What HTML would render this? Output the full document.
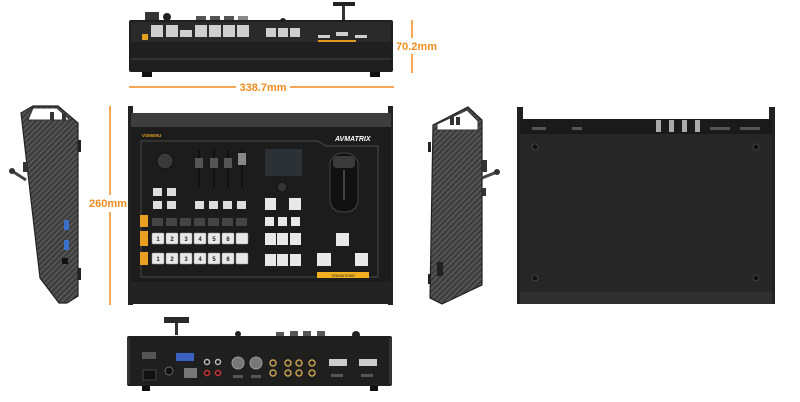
<!DOCTYPE html>
<html><head><meta charset="utf-8"><style>
html,body{margin:0;padding:0;background:#fff;width:800px;height:402px;overflow:hidden}
svg{display:block}
text{font-family:"Liberation Sans",sans-serif}
</style></head><body>
<svg width="800" height="402" viewBox="0 0 800 402" xmlns="http://www.w3.org/2000/svg">
<defs>
<pattern id="hatch" width="4" height="4" patternUnits="userSpaceOnUse" patternTransform="rotate(45)">
<rect width="4" height="4" fill="#3a3a3a"/><rect width="2" height="4" fill="#555"/>
</pattern>
<g id="wb"><rect width="12" height="11" rx="1" fill="#e8e8e8" stroke="#999" stroke-width="0.5"/></g>
</defs>

<!-- FRONT ELEVATION (top) -->
<rect x="145" y="12" width="14" height="8" fill="#333"/>
<circle cx="167" cy="17" r="4" fill="#222"/>
<rect x="196" y="16" width="10" height="5" fill="#555"/><rect x="210" y="16" width="10" height="5" fill="#555"/><rect x="224" y="16" width="10" height="5" fill="#555"/><rect x="238" y="16" width="10" height="5" fill="#888"/>
<circle cx="283" cy="21" r="3" fill="#222"/>
<rect x="333" y="2" width="22" height="4" fill="#222"/><rect x="342" y="6" width="3" height="18" fill="#333"/>
<rect x="129" y="20" width="264" height="52" rx="2" fill="#1f1f1f"/>
<rect x="131" y="22" width="260" height="20" fill="#2a2a2a"/>
<g fill="#cfcfcf">
<rect x="151" y="25" width="12" height="12"/><rect x="166" y="25" width="12" height="12"/><rect x="180" y="30" width="12" height="7"/><rect x="195" y="25" width="12" height="12"/><rect x="209" y="25" width="12" height="12"/><rect x="223" y="25" width="12" height="12"/><rect x="237" y="25" width="12" height="12"/>
<rect x="266" y="28" width="10" height="9"/><rect x="278" y="28" width="10" height="9"/><rect x="290" y="28" width="10" height="9"/>
<rect x="318" y="35" width="12" height="3"/><rect x="336" y="32" width="12" height="4"/><rect x="355" y="35" width="12" height="3"/>
</g>
<rect x="142" y="34" width="6" height="6" fill="#e0a020"/>
<rect x="318" y="40" width="38" height="2" fill="#e09a20"/>
<line x1="131" y1="59" x2="391" y2="59" stroke="#555" stroke-width="0.7"/>
<rect x="142" y="72" width="10" height="5" fill="#111"/><rect x="370" y="72" width="10" height="5" fill="#111"/>
<line x1="129" y1="87" x2="236" y2="87" stroke="#f08c1e" stroke-width="1.5"/>
<line x1="290" y1="87" x2="394" y2="87" stroke="#f08c1e" stroke-width="1.5"/>
<text x="263" y="91" font-size="11" font-weight="bold" fill="#f08c1e" text-anchor="middle">338.7mm</text>
<line x1="412" y1="20" x2="412" y2="38" stroke="#f08c1e" stroke-width="1.5"/>
<line x1="412" y1="54" x2="412" y2="73" stroke="#f08c1e" stroke-width="1.5"/>
<text x="396" y="50" font-size="11" font-weight="bold" fill="#f08c1e">70.2mm</text>

<!-- LEFT SIDE VIEW -->
<polygon points="21,113 33,106 58,106 78,123 78,296 67,303 59,303 40,278" fill="url(#hatch)" stroke="#222" stroke-width="1.2"/>
<polygon points="33,108 57,108 70,120 28,120" fill="#fff" stroke="#333"/>
<rect x="50" y="112" width="4" height="8" fill="#333"/><rect x="62" y="113" width="4" height="7" fill="#333"/>
<line x1="12" y1="171" x2="26" y2="180" stroke="#444" stroke-width="3"/><circle cx="12" cy="171" r="3" fill="#333"/>
<rect x="23" y="162" width="5" height="10" fill="#333"/>
<rect x="78" y="140" width="3" height="12" fill="#222"/><rect x="78" y="268" width="3" height="12" fill="#222"/>
<rect x="64" y="220" width="5" height="10" fill="#3a70c8"/><rect x="64" y="240" width="5" height="10" fill="#3a70c8"/>
<rect x="62" y="258" width="6" height="6" fill="#111"/>
<line x1="110" y1="106" x2="110" y2="195" stroke="#f08c1e" stroke-width="1.5"/>
<line x1="110" y1="212" x2="110" y2="305" stroke="#f08c1e" stroke-width="1.5"/>
<text x="89" y="207" font-size="11" font-weight="bold" fill="#f08c1e">260mm</text>

<!-- TOP VIEW -->
<rect x="128" y="106" width="5" height="199" fill="#222"/><rect x="388" y="106" width="5" height="199" fill="#222"/>
<rect x="131" y="113" width="260" height="191" fill="#1c1c1c"/>
<rect x="131" y="113" width="260" height="14" fill="#3d3d3d"/>
<rect x="131" y="282" width="260" height="22" fill="#232323"/>
<text x="142" y="137" font-size="4.5" font-weight="bold" fill="#e0a020">VS0605U</text>
<text x="335" y="141" font-size="7" font-weight="bold" font-style="italic" fill="#fff">AVMATRIX</text>
<path d="M141,141 L318,141 L326,146 L378,146 L378,277 L141,277 Z" fill="none" stroke="#555" stroke-width="0.8"/>
<circle cx="165" cy="161" r="8" fill="#3a3a3a" stroke="#111"/>
<g fill="#ddd"><rect x="153" y="188" width="9" height="8"/><rect x="167" y="188" width="9" height="8"/><rect x="153" y="201" width="9" height="8"/><rect x="167" y="201" width="9" height="8"/></g>
<g fill="#111"><rect x="198" y="150" width="2" height="38"/><rect x="213" y="150" width="2" height="38"/><rect x="227" y="150" width="2" height="38"/><rect x="241" y="150" width="2" height="38"/></g>
<g fill="#555"><rect x="195" y="158" width="8" height="10"/><rect x="210" y="158" width="8" height="10"/><rect x="224" y="158" width="8" height="10"/><rect x="238" y="153" width="8" height="12" fill="#888"/></g>
<g fill="#ddd"><rect x="195" y="201" width="9" height="8"/><rect x="209" y="201" width="9" height="8"/><rect x="223" y="201" width="9" height="8"/><rect x="237" y="201" width="9" height="8"/></g>
<rect x="265" y="149" width="37" height="27" fill="#2c3136"/>
<circle cx="282" cy="187" r="5" fill="#333" stroke="#111"/>
<rect x="330" y="153" width="28" height="59" rx="12" fill="#111" stroke="#444"/>
<rect x="333" y="156" width="22" height="12" rx="4" fill="#3a3a3a"/>
<rect x="343" y="170" width="2" height="30" fill="#444"/>
<!-- orange row labels -->
<rect x="140" y="215" width="8" height="12" fill="#e8a020"/>
<rect x="140" y="231" width="8" height="15" fill="#e8a020"/>
<rect x="140" y="252" width="8" height="13" fill="#e8a020"/>
<g fill="#444"><rect x="152" y="218" width="11" height="8"/><rect x="166" y="218" width="11" height="8"/><rect x="180" y="218" width="11" height="8"/><rect x="194" y="218" width="11" height="8"/><rect x="208" y="218" width="11" height="8"/><rect x="222" y="218" width="11" height="8"/><rect x="236" y="218" width="11" height="8"/></g>
<g font-size="6" font-weight="bold" fill="#222" text-anchor="middle">
<use href="#wb" x="152" y="233"/><use href="#wb" x="166" y="233"/><use href="#wb" x="180" y="233"/><use href="#wb" x="194" y="233"/><use href="#wb" x="208" y="233"/><use href="#wb" x="222" y="233"/><use href="#wb" x="236" y="233"/>
<text x="158" y="241">1</text><text x="172" y="241">2</text><text x="186" y="241">3</text><text x="200" y="241">4</text><text x="214" y="241">5</text><text x="228" y="241">6</text>
<use href="#wb" x="152" y="253"/><use href="#wb" x="166" y="253"/><use href="#wb" x="180" y="253"/><use href="#wb" x="194" y="253"/><use href="#wb" x="208" y="253"/><use href="#wb" x="222" y="253"/><use href="#wb" x="236" y="253"/>
<text x="158" y="261">1</text><text x="172" y="261">2</text><text x="186" y="261">3</text><text x="200" y="261">4</text><text x="214" y="261">5</text><text x="228" y="261">6</text>
</g>
<g fill="#e8e8e8">
<rect x="265" y="198" width="11" height="12"/><rect x="289" y="198" width="12" height="12"/>
<rect x="265" y="217" width="9" height="9"/><rect x="278" y="217" width="9" height="9"/><rect x="291" y="217" width="9" height="9"/>
<rect x="265" y="233" width="11" height="12"/><rect x="277" y="233" width="11" height="12"/><rect x="290" y="233" width="11" height="12"/>
<rect x="265" y="254" width="11" height="12"/><rect x="277" y="254" width="11" height="12"/><rect x="290" y="254" width="11" height="12"/>
<rect x="336" y="233" width="13" height="13"/><rect x="317" y="253" width="14" height="13"/><rect x="355" y="253" width="13" height="13"/>
</g>
<rect x="317" y="272" width="52" height="6" fill="#f0b020"/>
<text x="343" y="277" font-size="3.5" fill="#222" text-anchor="middle">TRANSITIONS</text>

<!-- RIGHT SIDE VIEW -->
<polygon points="433,125 468,107 482,120 482,285 442,304 430,298" fill="url(#hatch)" stroke="#222" stroke-width="1.2"/>
<polygon points="437,124 467,110 478,121 478,130 437,130" fill="#fff" stroke="#333"/>
<rect x="450" y="117" width="4" height="8" fill="#333"/><rect x="456" y="117" width="4" height="8" fill="#333"/>
<line x1="482" y1="178" x2="497" y2="172" stroke="#444" stroke-width="3"/><circle cx="497" cy="172" r="3" fill="#333"/>
<rect x="482" y="160" width="5" height="12" fill="#333"/><rect x="482" y="188" width="4" height="8" fill="#333"/>
<rect x="428" y="142" width="3" height="10" fill="#222"/><rect x="428" y="274" width="3" height="10" fill="#222"/>
<rect x="437" y="262" width="6" height="14" fill="#222"/>

<!-- BOTTOM VIEW -->
<rect x="517" y="107" width="6" height="197" fill="#222"/><rect x="769" y="107" width="6" height="197" fill="#222"/>
<rect x="520" y="119" width="252" height="185" fill="#262626"/>
<rect x="520" y="119" width="252" height="15" fill="#1a1a1a"/>
<g fill="#aaa"><rect x="656" y="120" width="5" height="12"/><rect x="669" y="120" width="5" height="12"/><rect x="682" y="120" width="5" height="12"/><rect x="695" y="120" width="5" height="12"/></g>
<g fill="#555"><rect x="532" y="127" width="14" height="3"/><rect x="572" y="127" width="10" height="3"/><rect x="710" y="127" width="20" height="3"/><rect x="740" y="127" width="20" height="3"/></g>
<rect x="520" y="292" width="252" height="12" fill="#303030"/>
<g fill="#111" stroke="#444"><circle cx="535" cy="147" r="3"/><circle cx="756" cy="147" r="3"/><circle cx="535" cy="278" r="3"/><circle cx="756" cy="278" r="3"/></g>

<!-- REAR VIEW -->
<rect x="164" y="317" width="25" height="6" fill="#2a2a2a"/><rect x="175" y="323" width="3" height="12" fill="#333"/>
<circle cx="238" cy="334" r="3" fill="#222"/>
<g fill="#555"><rect x="276" y="332" width="8" height="4"/><rect x="290" y="331" width="8" height="5"/><rect x="303" y="331" width="8" height="5"/><rect x="317" y="331" width="8" height="5"/></g>
<circle cx="356" cy="335" r="4" fill="#222"/>
<rect x="127" y="336" width="265" height="50" rx="2" fill="#1f1f1f"/>
<rect x="127" y="338" width="3" height="46" fill="#333"/><rect x="389" y="338" width="3" height="46" fill="#333"/>
<rect x="142" y="352" width="14" height="7" fill="#555"/>
<rect x="176" y="353" width="18" height="8" fill="#3a60c0"/>
<rect x="143" y="370" width="13" height="10" fill="#111" stroke="#444"/>
<circle cx="169" cy="371" r="4" fill="#111" stroke="#666"/>
<rect x="184" y="368" width="13" height="10" fill="#777"/>
<g stroke="#bbb" stroke-width="1.5"><circle cx="207" cy="362" r="2.5" fill="#111"/><circle cx="218" cy="362" r="2.5" fill="#111"/></g>
<g stroke="#c33" stroke-width="1.5"><circle cx="207" cy="373" r="2.5" fill="#111"/><circle cx="218" cy="373" r="2.5" fill="#111"/></g>
<g fill="#777" stroke="#999"><circle cx="238" cy="363" r="6"/><circle cx="256" cy="363" r="6"/></g>
<rect x="233" y="375" width="10" height="3" fill="#555"/><rect x="251" y="375" width="10" height="3" fill="#555"/>
<g fill="#222" stroke="#c9a050" stroke-width="1.5"><circle cx="273" cy="363" r="3"/><circle cx="273" cy="373" r="3"/><circle cx="288" cy="363" r="3"/><circle cx="288" cy="373" r="3"/><circle cx="299" cy="363" r="3"/><circle cx="299" cy="373" r="3"/><circle cx="312" cy="363" r="3"/><circle cx="312" cy="373" r="3"/></g>
<g fill="#ccc"><rect x="329" y="359" width="18" height="7"/><rect x="359" y="359" width="18" height="7"/></g>
<g fill="#555"><rect x="331" y="374" width="12" height="3"/><rect x="361" y="374" width="12" height="3"/></g>
<rect x="142" y="386" width="8" height="5" fill="#111"/><rect x="370" y="386" width="8" height="5" fill="#111"/>
</svg>
</body></html>
